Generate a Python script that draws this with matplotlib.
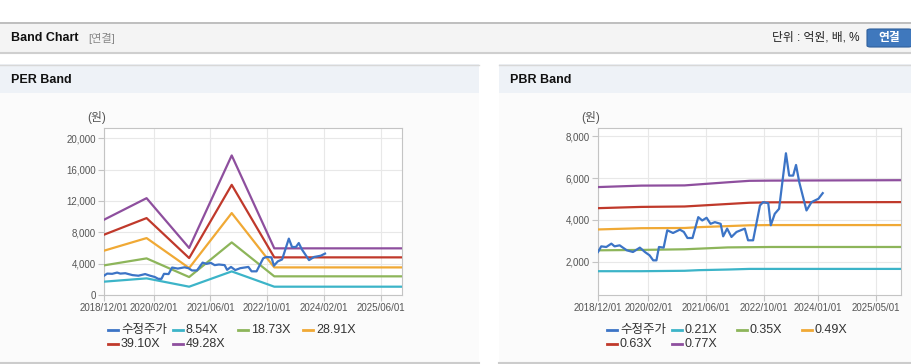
import matplotlib.pyplot as plt
from matplotlib.lines import Line2D
from matplotlib.patches import Rectangle, FancyBboxPatch

plt.rcParams['font.family'] = ['Liberation Sans', 'Noto Sans CJK KR', 'DejaVu Sans']

# ---------------- data (x = months since 2018/12) ----------------
price_m = [0, 0.9, 2.3, 3.7, 4.6, 6, 6.9, 8, 9.7, 11.6, 13, 14.3, 15.3, 16.2, 16.9, 18.2,
           19.2, 20.8, 22.7, 23.8, 24.8, 26.2, 27.8, 28.9, 30.1, 31.2, 32.4, 34, 34.7,
           35.8, 37, 38.4, 40.7, 41.6, 43, 44.9, 45.8, 47.2, 47.9, 49, 50.2, 52.1, 53,
           54.1, 54.9, 55.8, 57.8, 59.2, 61.1, 62.3]
price = [2460, 2730, 2700, 2860, 2730, 2780, 2670, 2540, 2460, 2670, 2460, 2300, 2060,
         2060, 2700, 2670, 3500, 3370, 3530, 3420, 3130, 3130, 4130, 3970, 4100, 3810,
         3890, 3810, 3210, 3580, 3180, 3420, 3580, 3020, 3020, 4690, 4850, 4800, 3740,
         4290, 4530, 7190, 6120, 6120, 6630, 5800, 4450, 4850, 5010, 5280]

per_m = [0, 12, 24, 36, 48, 84]
per_labels = ['8.54X', '18.73X', '28.91X', '39.10X', '49.28X']
per_854 = [1700, 2120, 1060, 3010, 1060, 1060]
per_1873 = [3780, 4670, 2290, 6710, 2380, 2380]
per_2891 = [5650, 7260, 3440, 10450, 3520, 3520]
per_3910 = [7690, 9810, 4710, 14050, 4800, 4800]
per_4928 = [9600, 12350, 6000, 17800, 5950, 5950]

pbr_m = [0, 12, 24, 28, 36, 42, 48, 84]
pbr_labels = ['0.21X', '0.35X', '0.49X', '0.63X', '0.77X']
pbr_021 = [1540, 1540, 1560, 1590, 1620, 1650, 1650, 1650]
pbr_035 = [2540, 2560, 2590, 2620, 2680, 2690, 2700, 2700]
pbr_049 = [3540, 3600, 3610, 3650, 3700, 3740, 3750, 3750]
pbr_063 = [4560, 4620, 4640, 4680, 4760, 4820, 4840, 4850]
pbr_077 = [5570, 5640, 5650, 5700, 5800, 5870, 5880, 5900]

per_ticks = [0, 14, 30, 46, 62, 78]
per_ticklabels = ['2018/12/01', '2020/02/01', '2021/06/01', '2022/10/01', '2024/02/01', '2025/06/01']
pbr_ticks = [0, 14, 30, 46, 61, 77]
pbr_ticklabels = ['2018/12/01', '2020/02/01', '2021/06/01', '2022/10/01', '2024/01/01', '2025/05/01']

colors = ['#3c74c6', '#3cb4c8', '#8db55a', '#f0a935', '#c0392b', '#8e4f9e']

W, H = 912, 364
fig = plt.figure(figsize=(W / 100, H / 100), dpi=100)
fig.patch.set_facecolor('white')


def fx(px):
    return px / W


def fy(py):
    return 1 - py / H


def rect(x0, y0, x1, y1, **kw):
    fig.add_artist(Rectangle((fx(x0), fy(y1)), fx(x1 - x0), (y1 - y0) / H,
                             transform=fig.transFigure, zorder=-10, **kw))


def hline(x0, x1, y, color, lw=1):
    fig.add_artist(Line2D([fx(x0), fx(x1)], [fy(y), fy(y)], color=color, lw=lw,
                          transform=fig.transFigure, zorder=-5))


# ---------------- page chrome ----------------
rect(0, 22, W, 53, facecolor='#f4f4f4', edgecolor='none')
hline(0, W, 22.5, '#b5b5b5', 1.2)
hline(0, W, 53, '#cfcfcf', 1.5)
fig.text(fx(11), fy(38), 'Band Chart', fontsize=9, fontweight='bold', va='center', color='#111')
fig.text(fx(88), fy(38), '[연결]', fontsize=8, va='center', color='#888')
fig.text(fx(860), fy(38), '단위 : 억원, 배, %', fontsize=8.5, va='center', ha='right', color='#222')
fig.add_artist(FancyBboxPatch((fx(867), fy(47)), fx(45), 18 / H, boxstyle='round,pad=0,rounding_size=0.004',
                              transform=fig.transFigure, facecolor='#3f78bd', edgecolor='#2f5f9c', lw=0.8))
fig.text(fx(889), fy(38), '연결', fontsize=8.5, fontweight='bold', va='center', ha='center', color='white')

for x0, x1, title in [(0, 479, 'PER Band'), (499, W, 'PBR Band')]:
    rect(x0, 64, x1, 93, facecolor='#eef2f7', edgecolor='none')
    rect(x0, 93, x1, 363, facecolor='#fbfbfb', edgecolor='none')
    hline(x0, x1, 64.5, '#d8d8d8', 1)
    hline(x0, x1, 363, '#cccccc', 1.5)
    fig.text(fx(x0 + 11), fy(80), title, fontsize=9, fontweight='bold', va='center', color='#111')


def draw_panel(left, right, bands, band_m, band_labels, ylim, yticks, ticks, ticklabels, unit_x, leg_x):
    ax = fig.add_axes([fx(left), fy(295), fx(right - left), (295 - 128) / H])
    ax.set_facecolor('white')
    ax.plot(price_m, price, color=colors[0], lw=1.6, zorder=5)
    for i, b in enumerate(bands):
        ax.plot(band_m, b, color=colors[i + 1], lw=1.6, zorder=3)
    ax.set_xlim(0, 84)
    ax.set_ylim(*ylim)
    ax.set_xticks(ticks)
    ax.set_xticklabels(ticklabels)
    ax.set_yticks(yticks)
    ax.set_yticklabels(['{:,}'.format(v) for v in yticks])
    ax.grid(True, color='#e8e8e8', lw=0.8)
    ax.set_axisbelow(True)
    for s in ax.spines.values():
        s.set_color('#c4c4c4')
    ax.tick_params(colors='#c4c4c4', labelcolor='#555', labelsize=7, length=4, width=0.8, pad=2)
    fig.text(fx(unit_x), fy(117), '(원)', fontsize=8.5, color='#555', va='center')
    # legend
    names = ['수정주가'] + band_labels
    for k, name in enumerate(names):
        col, row = k % 4, k // 4
        x = leg_x + col * 65
        y = 330 + row * 14
        fig.add_artist(Line2D([fx(x), fx(x + 10)], [fy(y), fy(y)], color=colors[k], lw=2,
                              transform=fig.transFigure))
        fig.text(fx(x + 13), fy(y), name, fontsize=9, color='#333', va='center')
    return ax


draw_panel(104, 402, [per_854, per_1873, per_2891, per_3910, per_4928], per_m, per_labels,
           (0, 21300), [0, 4000, 8000, 12000, 16000, 20000], per_ticks, per_ticklabels, 87, 108)
draw_panel(598, 901, [pbr_021, pbr_035, pbr_049, pbr_063, pbr_077], pbr_m, pbr_labels,
           (400, 8400), [2000, 4000, 6000, 8000], pbr_ticks, pbr_ticklabels, 581, 607)

fig.savefig('out.png', dpi=100)
